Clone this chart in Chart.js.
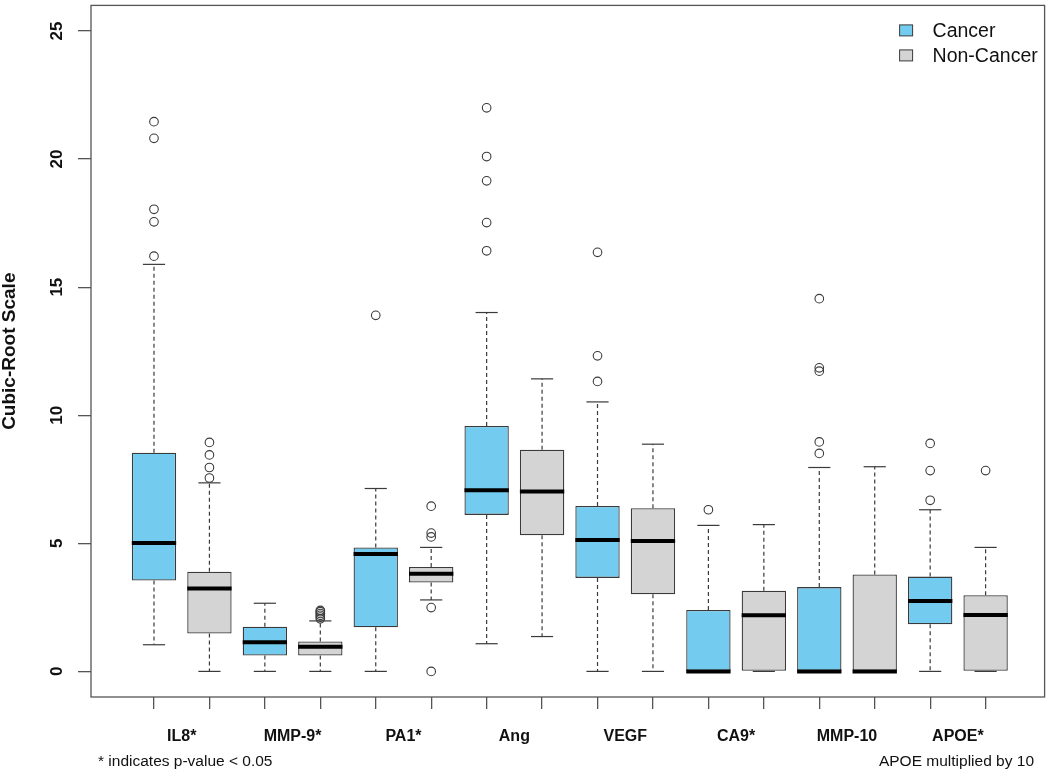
<!DOCTYPE html>
<html>
<head>
<meta charset="utf-8">
<script src="https://cdn.jsdelivr.net/npm/chart.js@4.4.1/dist/chart.umd.min.js"></script>
<style>
  body { margin: 0; background: #fff; }
  #wrap { width: 1050px; height: 772px; }
</style>
</head>
<body>
<div id="wrap"><canvas id="chart" width="1050" height="772"></canvas></div>
<script>
const categories = ['IL8*', 'MMP-9*', 'PA1*', 'Ang', 'VEGF', 'CA9*', 'MMP-10', 'APOE*'];
const seriesNames = ['Cancer', 'Non-Cancer'];
const yTicks = [0, 5, 10, 15, 20, 25];

// box plot stats (cubic-root scale)
const cancerMin = [1.04, 0, 0, 1.08, 0, 0, 0, 0];
const cancerQ1 = [3.55, 0.62, 1.72, 6.11, 3.65, 0, 0, 1.84];
const cancerMedian = [5.01, 1.14, 4.58, 7.07, 5.13, 0, 0, 2.75];
const cancerQ3 = [8.54, 1.74, 4.84, 9.58, 6.46, 2.40, 3.29, 3.70];
const cancerMax = [15.89, 2.66, 7.14, 14.01, 10.52, 5.70, 7.96, 6.31];
const cancerOutliers = [
    [21.46, 20.81, 18.04, 17.55, 16.21], [], [13.9], [22.0, 20.1, 19.15, 17.52, 16.42],
    [16.36, 12.32, 11.32], [6.31], [14.55, 11.85, 11.72, 8.96, 8.51], [8.9, 7.84, 6.68]
];

const nonCancerMin = [0, 0, 2.79, 1.36, 0, 0, 0, 0];
const nonCancerQ1 = [1.48, 0.62, 3.47, 5.31, 3.01, 0, 0, 0];
const nonCancerMedian = [3.24, 0.96, 3.81, 7.02, 5.09, 2.19, 0, 2.20];
const nonCancerQ3 = [3.89, 1.17, 4.08, 8.65, 6.37, 3.15, 3.78, 2.97];
const nonCancerMax = [7.36, 1.97, 4.84, 11.42, 8.87, 5.73, 7.99, 4.84];
const nonCancerOutliers = [
    [8.94, 8.45, 7.96, 7.55], [2.05, 2.12, 2.19, 2.26, 2.33, 2.38], [6.45, 5.4, 5.25, 2.49, 0], [],
    [], [], [], [7.84]
];

const cancerColor = '#73CCEF';
const nonCancerColor = '#D4D4D5';
const lineColor = '#3a3a3a';
const fontFamily = '"Liberation Sans", Arial, sans-serif';

const cancerPos = categories.map((c, i) => 2 * i + 1);
const nonCancerPos = categories.map((c, i) => 2 * i + 2);

const groups = [
    { pos: cancerPos, min: cancerMin, q1: cancerQ1, med: cancerMedian, q3: cancerQ3, max: cancerMax, meta: 0 },
    { pos: nonCancerPos, min: nonCancerMin, q1: nonCancerQ1, med: nonCancerMedian, q3: nonCancerQ3, max: nonCancerMax, meta: 1 }
];

function boxData(pos, q1, q3) {
    return pos.map((p, i) => ({ x: p, y: [q1[i], q3[i]] }));
}
function outlierData(pos, outs) {
    const pts = [];
    outs.forEach((list, i) => list.forEach(v => pts.push({ x: pos[i], y: v })));
    return pts;
}

function line(ctx, x1, y1, x2, y2) {
    ctx.beginPath();
    ctx.moveTo(x1, y1);
    ctx.lineTo(x2, y2);
    ctx.stroke();
}

const boxParts = {
    id: 'boxParts',
    beforeDatasetsDraw(chart) {
        const { ctx, scales: { x, y } } = chart;
        ctx.save();
        ctx.strokeStyle = lineColor;
        ctx.lineWidth = 1.2;
        groups.forEach(g => {
            g.pos.forEach((p, i) => {
                const px = x.getPixelForValue(p);
                const half = x.getPixelForValue(p + 0.2) - px;
                const yMax = y.getPixelForValue(g.max[i]);
                const yMin = y.getPixelForValue(g.min[i]);
                ctx.setLineDash([4, 3]);
                line(ctx, px, y.getPixelForValue(g.q3[i]), px, yMax);
                line(ctx, px, y.getPixelForValue(g.q1[i]), px, yMin);
                ctx.setLineDash([]);
                line(ctx, px - half, yMax, px + half, yMax);
                line(ctx, px - half, yMin, px + half, yMin);
            });
        });
        ctx.restore();
    },
    afterDatasetsDraw(chart) {
        const { ctx, scales: { y } } = chart;
        ctx.save();
        ctx.strokeStyle = '#000';
        ctx.lineWidth = 4;
        groups.forEach(g => {
            const bars = chart.getDatasetMeta(g.meta).data;
            g.med.forEach((m, i) => {
                const bar = bars[i];
                const ym = y.getPixelForValue(m);
                line(ctx, bar.x - bar.width / 2, ym, bar.x + bar.width / 2, ym);
            });
        });
        ctx.restore();
    },
    afterDraw(chart) {
        const { ctx, chartArea } = chart;
        ctx.save();
        // plot frame
        ctx.strokeStyle = '#555';
        ctx.lineWidth = 1.3;
        ctx.strokeRect(chartArea.left, chartArea.top, chartArea.right - chartArea.left, chartArea.bottom - chartArea.top);

        // legend
        const colors = [cancerColor, nonCancerColor];
        ctx.font = '19.5px ' + fontFamily;
        ctx.textBaseline = 'middle';
        ctx.textAlign = 'left';
        seriesNames.forEach((name, i) => {
            const cy = chartArea.top + 25 + i * 25;
            const bx = chartArea.right - 145;
            ctx.fillStyle = colors[i];
            ctx.fillRect(bx, cy - 5.5, 13, 11);
            ctx.strokeStyle = lineColor;
            ctx.lineWidth = 1;
            ctx.strokeRect(bx, cy - 5.5, 13, 11);
            ctx.fillStyle = '#111';
            ctx.fillText(name, chartArea.right - 112, cy + 1);
        });

        // footnotes
        ctx.font = '15.5px ' + fontFamily;
        ctx.fillStyle = '#111';
        ctx.textAlign = 'left';
        ctx.fillText('* indicates p-value < 0.05', 98, 762);
        ctx.textAlign = 'right';
        ctx.fillText('APOE multiplied by 10', 1034, 762);
        ctx.restore();
    }
};

const chart = new Chart(document.querySelector('#chart'), {
    type: 'bar',
    data: {
        datasets: [{
            label: seriesNames[0],
            data: boxData(cancerPos, cancerQ1, cancerQ3),
            backgroundColor: cancerColor,
            borderColor: lineColor,
            borderWidth: 1.3,
            borderSkipped: false,
            grouped: false,
            barPercentage: 0.8,
            categoryPercentage: 1
        }, {
            label: seriesNames[1],
            data: boxData(nonCancerPos, nonCancerQ1, nonCancerQ3),
            backgroundColor: nonCancerColor,
            borderColor: lineColor,
            borderWidth: 1.3,
            borderSkipped: false,
            grouped: false,
            barPercentage: 0.8,
            categoryPercentage: 1
        }, {
            type: 'scatter',
            label: seriesNames[0] + ' outliers',
            data: outlierData(cancerPos, cancerOutliers),
            pointStyle: 'circle',
            pointRadius: 4.3,
            pointBorderWidth: 1.1,
            pointBorderColor: lineColor,
            pointBackgroundColor: 'rgba(0,0,0,0)'
        }, {
            type: 'scatter',
            label: seriesNames[1] + ' outliers',
            data: outlierData(nonCancerPos, nonCancerOutliers),
            pointStyle: 'circle',
            pointRadius: 4.3,
            pointBorderWidth: 1.1,
            pointBorderColor: lineColor,
            pointBackgroundColor: 'rgba(0,0,0,0)'
        }]
    },
    options: {
        responsive: false,
        animation: false,
        layout: { padding: { left: 0, top: 2, right: 5, bottom: 21 } },
        plugins: {
            legend: { display: false },
            tooltip: { enabled: false }
        },
        scales: {
            x: {
                type: 'linear',
                position: 'bottom',
                weight: 0,
                offset: false,
                min: -0.136,
                max: 17.064,
                afterBuildTicks: s => { s.ticks = cancerPos.concat(nonCancerPos).sort((a, b) => a - b).map(v => ({ value: v })); },
                afterFit: s => { s.height = 12; s.paddingLeft = 0; s.paddingRight = 0; },
                ticks: { display: false },
                grid: { offset: false, drawOnChartArea: false, drawTicks: true, tickLength: 12, color: '#555', lineWidth: 1.3 },
                border: { display: false }
            },
            x2: {
                type: 'linear',
                position: 'bottom',
                weight: 1,
                offset: false,
                min: -0.136,
                max: 17.064,
                afterBuildTicks: s => { s.ticks = categories.map((c, i) => ({ value: 2 * i + 1.5 })); },
                afterFit: s => { s.height = 42; s.paddingLeft = 0; s.paddingRight = 0; },
                ticks: {
                    autoSkip: false,
                    maxRotation: 0,
                    padding: 18,
                    color: '#111',
                    font: { family: fontFamily, size: 16, weight: 'bold' },
                    callback: (value, index) => categories[index]
                },
                grid: { display: false, drawTicks: false, offset: false },
                border: { display: false }
            },
            y: {
                type: 'linear',
                position: 'left',
                min: -1,
                max: 26,
                afterBuildTicks: s => { s.ticks = yTicks.map(v => ({ value: v })); },
                afterFit: s => { s.width = 91; s.paddingTop = 0; s.paddingBottom = 0; },
                ticks: {
                    minRotation: 90,
                    maxRotation: 90,
                    crossAlign: 'center',
                    padding: 11,
                    color: '#111',
                    font: { family: fontFamily, size: 17, weight: 'bold' }
                },
                grid: { drawOnChartArea: false, drawTicks: true, tickLength: 13, color: '#555', lineWidth: 1.3 },
                border: { display: false },
                title: {
                    display: true,
                    text: 'Cubic-Root Scale',
                    color: '#111',
                    padding: 0,
                    font: { family: fontFamily, size: 19, weight: 'bold', lineHeight: 1.05 }
                }
            }
        }
    },
    plugins: [boxParts]
});
</script>
</body>
</html>
